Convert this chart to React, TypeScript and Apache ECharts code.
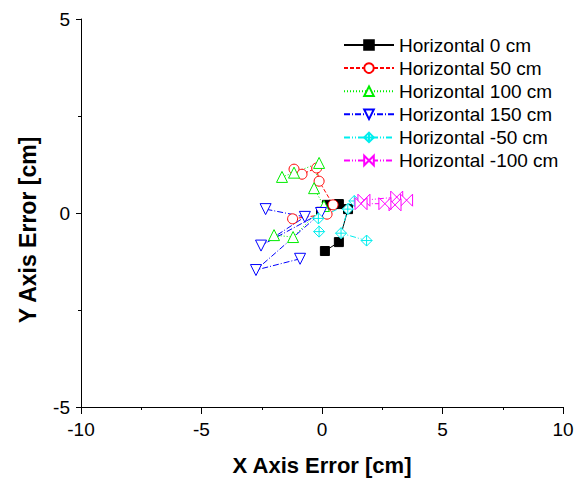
import React, { useEffect, useRef } from "react";
import * as echarts from "echarts";

const seriesNames = [
  "Horizontal 0 cm",
  "Horizontal 50 cm",
  "Horizontal 100 cm",
  "Horizontal 150 cm",
  "Horizontal -50 cm",
  "Horizontal -100 cm",
];

const h0: number[][] = [
  [-0.04, 0.03], [0.21, 0.21], [0.7, 0.23], [1.08, 0.1], [0.7, -0.75], [0.12, -0.98],
];
const h50: number[][] = [
  [-1.16, 1.13], [-0.83, 1.0], [-0.22, 1.16], [-0.12, 0.82], [0.46, 0.21], [0.21, -0.03], [-1.22, -0.15],
];
const h100: number[][] = [
  [-1.66, 0.93], [-1.16, 1.04], [-0.12, 1.29], [-0.33, 0.64], [0.08, 0.18], [-1.2, -0.62], [-1.99, -0.57],
];
const h150: number[][] = [
  [-0.91, -1.18], [-2.74, -1.47], [-0.04, 0.0], [-2.53, -0.84], [-0.71, -0.1], [-2.34, 0.1],
];
const hm50: number[][] = [
  [-0.12, -0.48], [-0.15, -0.14], [1.34, 0.31], [1.07, 0.1], [0.79, -0.52], [1.85, -0.71],
];
const hm100: number[][] = [
  [1.74, 0.33], [3.1, 0.41], [3.51, 0.33], [3.03, 0.21], [2.61, 0.24], [1.62, 0.24],
];

const xTicks = { min: -10, max: 10, interval: 5 };
const yTicks = { min: -5, max: 5, interval: 5 };

const FONT = '"Liberation Sans", Arial, sans-serif';

export default function App() {
  const ref = useRef<HTMLDivElement>(null);
  useEffect(() => {
    document.body.style.margin = "0";
    const chart = echarts.init(ref.current!, null, { renderer: "svg" });
    const datas = [h0, h50, h100, h150, hm50, hm100];
    const colors = ["#000000", "#ff0000", "#00ee00", "#0000ff", "#00eeee", "#ff00ff"];
    const symbols = [
      "rect",
      "circle",
      "triangle",
      "path://M0,0 L10,0 L5,9 Z",
      "path://M5,0 L10,5 L5,10 L0,5 Z M5,0 L5,10 M0,5 L10,5",
      "path://M0,0 L10,10 L10,0 L0,10 Z",
    ];
    const sizes = [9, 10, 11, 11, 11, 12];
    const dashes: any[] = [
      "solid",
      [4, 2],
      [1, 2],
      [6, 2, 1, 2],
      [6, 2, 1, 2, 1, 2],
      [6, 2, 1, 2, 1, 2],
    ];
    const series = datas.map((d, i) => ({
      name: seriesNames[i],
      type: "line",
      data: d,
      color: colors[i],
      symbol: symbols[i],
      symbolSize: sizes[i],
      showAllSymbol: true,
      lineStyle: { color: colors[i], width: 1, type: dashes[i] },
      itemStyle: {
        color: i === 0 ? "#000" : "#fff",
        borderColor: colors[i],
        borderWidth: 1,
      },
      emphasis: { disabled: true },
    }));
    chart.setOption({
      animation: false,
      textStyle: { fontFamily: FONT },
      grid: { left: 81, right: 19, top: 19, bottom: 74, containLabel: false },
      legend: {
        data: seriesNames,
        orient: "vertical",
        left: 343,
        top: 35.5,
        padding: 0,
        itemWidth: 50,
        itemHeight: 12,
        itemGap: 4.1,
        textStyle: { fontSize: 19, color: "#000", fontFamily: FONT, lineHeight: 18 },
      },
      xAxis: {
        type: "value",
        min: xTicks.min,
        max: xTicks.max,
        interval: xTicks.interval,
        name: "X Axis Error [cm]",
        nameLocation: "middle",
        nameGap: 47,
        nameTextStyle: { fontSize: 22, fontWeight: "bold", color: "#000", fontFamily: FONT },
        axisLine: { onZero: false, lineStyle: { color: "#000", width: 1 } },
        axisTick: { length: 7, lineStyle: { color: "#000" } },
        minorTick: { show: true, splitNumber: 2, length: 3, lineStyle: { color: "#000" } },
        splitLine: { show: false },
        axisLabel: { fontSize: 19, color: "#000", margin: 13, fontFamily: FONT },
      },
      yAxis: {
        type: "value",
        min: yTicks.min,
        max: yTicks.max,
        interval: yTicks.interval,
        axisLine: { show: true, onZero: false, lineStyle: { color: "#000", width: 1 } },
        axisTick: { show: true, length: 5, lineStyle: { color: "#000" } },
        minorTick: { show: true, splitNumber: 2, length: 3, lineStyle: { color: "#000" } },
        splitLine: { show: false },
        axisLabel: { fontSize: 19, color: "#000", margin: 11, fontFamily: FONT },
      },
      graphic: [
        {
          type: "text",
          x: 28,
          y: 230,
          rotation: Math.PI / 2,
          style: {
            text: "Y Axis Error [cm]",
            font: 'bold 23px "Liberation Sans", Arial, sans-serif',
            fill: "#000",
            textAlign: "center",
            textVerticalAlign: "middle",
          },
        },
      ],
      series,
    });
    return () => chart.dispose();
  }, []);
  return <div ref={ref} style={{ width: 582, height: 481 }} />;
}
